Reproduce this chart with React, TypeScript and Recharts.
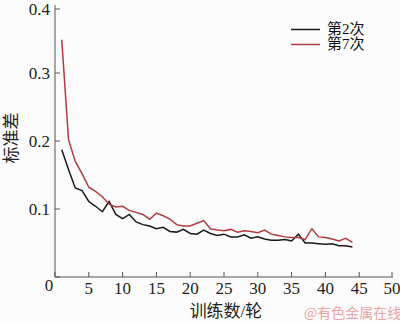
import { LineChart, Line, XAxis, YAxis, Legend } from 'recharts'

// training round index
const rounds = [
  1, 2, 3, 4, 5, 6, 7, 8, 9, 10, 11, 12, 13, 14, 15, 16, 17, 18, 19, 20, 21, 22,
  23, 24, 25, 26, 27, 28, 29, 30, 31, 32, 33, 34, 35, 36, 37, 38, 39, 40, 41, 42,
  43, 44,
]

// standard deviation, 2nd run
const run2 = [
  0.187, 0.158, 0.131, 0.127, 0.111, 0.104, 0.096, 0.111, 0.092, 0.086, 0.092,
  0.081, 0.077, 0.075, 0.071, 0.073, 0.067, 0.066, 0.07, 0.064, 0.063, 0.069,
  0.064, 0.061, 0.063, 0.059, 0.059, 0.062, 0.057, 0.059, 0.056, 0.054, 0.054,
  0.055, 0.053, 0.063, 0.05, 0.05, 0.049, 0.048, 0.049, 0.046, 0.046, 0.044,
]

// standard deviation, 7th run
const run7 = [
  0.349, 0.202, 0.17, 0.152, 0.132, 0.126, 0.118, 0.107, 0.103, 0.104, 0.098,
  0.095, 0.092, 0.085, 0.094, 0.09, 0.085, 0.077, 0.075, 0.075, 0.079, 0.083,
  0.071, 0.069, 0.068, 0.07, 0.066, 0.068, 0.067, 0.065, 0.069, 0.063, 0.061,
  0.059, 0.058, 0.058, 0.055, 0.071, 0.059, 0.058, 0.056, 0.053, 0.057, 0.051,
]

const xTicks = [0, 5, 10, 15, 20, 25, 30, 35, 40, 45, 50]
const yTicks = [0, 0.1, 0.2, 0.3, 0.4]
const yTickLabels = ['', '0.1', '0.2', '0.3', '0.4']

const data = rounds.map((r, i) => ({ round: r, run2: run2[i], run7: run7[i] }))

const axisColor = '#555'
const serif = '"Liberation Serif", "Noto Sans CJK SC", serif'

const XTick = ({ x, y, payload }: any) => {
  const isZero = payload.value === 0
  return (
    <g>
      <line x1={x} x2={x} y1={y} y2={y - 5} stroke={axisColor} />
      <text
        x={isZero ? x - 6 : x}
        y={y + (isZero ? 14 : 17)}
        textAnchor="middle"
        fontFamily={serif}
        fontSize={17}
        fill="#222"
      >
        {payload.value}
      </text>
    </g>
  )
}

const YTick = ({ x, y, payload, index }: any) => (
  <g>
    <line x1={x} x2={x + 5} y1={y} y2={y} stroke={axisColor} />
    <text
      x={x - 5}
      y={y}
      dy="0.35em"
      textAnchor="end"
      fontFamily={serif}
      fontSize={17}
      fill="#222"
    >
      {yTickLabels[index]}
    </text>
  </g>
)

const LegendBox = ({ payload }: any) => (
  <div style={{ fontFamily: serif, fontSize: 15, lineHeight: '15px', color: '#111' }}>
    {(payload || []).map((p: any) => (
      <div key={p.value} style={{ display: 'flex', alignItems: 'center', height: 15 }}>
        <svg width={36} height={15} style={{ display: 'block' }}>
          <line x1={0} x2={29} y1={7.5} y2={7.5} stroke={p.color} strokeWidth={1.5} />
        </svg>
        <span>{p.value}</span>
      </div>
    ))}
  </div>
)

export default function App() {
  return (
    <div
      style={{
        position: 'absolute',
        left: 0,
        top: 0,
        width: 400,
        height: 323,
        background: '#fcfcfc',
      }}
    >
      <LineChart width={400} height={323} data={data} margin={{ top: 5, right: 7, bottom: 0, left: 0 }}>
        <XAxis
          dataKey="round"
          type="number"
          domain={[0, 50]}
          ticks={xTicks}
          height={46}
          tickSize={0}
          tickMargin={0}
          tickLine={false}
          axisLine={{ stroke: axisColor }}
          tick={<XTick />}
          label={{
            content: ({ viewBox }: any) => (
              <text
                x={viewBox.x + viewBox.width / 2 + 2}
                y={viewBox.y + 40}
                textAnchor="middle"
                fontFamily={serif}
                fontSize={17}
                fill="#222"
              >
                训练数/轮
              </text>
            ),
          }}
        />
        <XAxis
          xAxisId="top"
          orientation="top"
          dataKey="round"
          type="number"
          domain={[0, 50]}
          height={0}
          tick={false}
          tickLine={false}
          axisLine={{ stroke: axisColor }}
        />
        <YAxis
          type="number"
          domain={[0, 0.4]}
          ticks={yTicks}
          width={55}
          tickSize={0}
          tickMargin={0}
          tickLine={false}
          axisLine={{ stroke: axisColor }}
          tick={<YTick />}
          label={{
            content: ({ viewBox }: any) => {
              const cx = 11
              const cy = viewBox.y + viewBox.height / 2 - 3
              return (
                <text
                  x={cx}
                  y={cy}
                  transform={`rotate(-90 ${cx} ${cy})`}
                  textAnchor="middle"
                  dominantBaseline="central"
                  fontFamily={serif}
                  fontSize={17}
                  fill="#222"
                >
                  标准差
                </text>
              )
            },
          }}
        />
        <YAxis
          yAxisId="right"
          orientation="right"
          type="number"
          domain={[0, 0.4]}
          width={0}
          tick={false}
          tickLine={false}
          axisLine={{ stroke: axisColor }}
        />
        <Legend
          layout="horizontal"
          verticalAlign="middle"
          align="center"
          content={<LegendBox />}
          wrapperStyle={{ position: 'absolute', left: 291, top: 22, width: 'auto' }}
        />
        <Line
          dataKey="run2"
          name="第2次"
          stroke="#1a1a1a"
          strokeWidth={1.5}
          dot={false}
          isAnimationActive={false}
        />
        <Line
          dataKey="run7"
          name="第7次"
          stroke="#b03c42"
          strokeWidth={1.5}
          dot={false}
          isAnimationActive={false}
        />
      </LineChart>
      <div
        style={{
          position: 'absolute',
          left: 304,
          top: 302,
          fontFamily: '"Noto Sans CJK SC", sans-serif',
          fontSize: 14,
          color: '#eea4a4',
          whiteSpace: 'nowrap',
        }}
      >
        @有色金属在线
      </div>
    </div>
  )
}
